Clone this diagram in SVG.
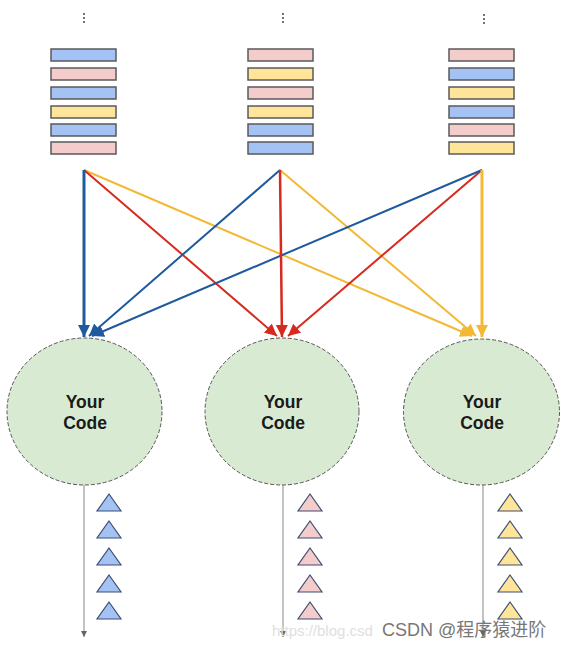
<svg xmlns="http://www.w3.org/2000/svg" width="568" height="648" viewBox="0 0 568 648">
<style>
.b{fill:#a4c2f4}.p{fill:#f4cccc}.y{fill:#ffe599}
.bar rect{stroke:#595959;stroke-width:1.5;width:65px;height:12px}
.dot{fill:#444}
.node ellipse{fill:#d9ead3;stroke:#555;stroke-width:1;stroke-dasharray:4 2}
.node text{font-family:"Liberation Sans",Arial,sans-serif;font-weight:bold;font-size:17.5px;fill:#1a1a1a;text-anchor:middle}
.tri polygon{stroke:#3d4f73;stroke-width:1.2}
.out{stroke:#9a9a9a;stroke-width:1.2;fill:none}
.cb{stroke:#1f5a9e;fill:none}.cr{stroke:#d62a1f;fill:none}.cy{stroke:#f3b935;fill:none}
.wm{font-family:"Liberation Sans",Arial,"Noto Sans CJK SC",sans-serif}
</style>
<defs>
<marker id="mb" markerUnits="userSpaceOnUse" markerWidth="14" markerHeight="14" refX="12" refY="6" orient="auto"><path d="M0,0 L12,6 L0,12 Z" fill="#1f5a9e"/></marker>
<marker id="mr" markerUnits="userSpaceOnUse" markerWidth="14" markerHeight="14" refX="12" refY="6" orient="auto"><path d="M0,0 L12,6 L0,12 Z" fill="#d62a1f"/></marker>
<marker id="my" markerUnits="userSpaceOnUse" markerWidth="14" markerHeight="14" refX="12" refY="6" orient="auto"><path d="M0,0 L12,6 L0,12 Z" fill="#f3b935"/></marker>
<marker id="mg" markerUnits="userSpaceOnUse" markerWidth="8" markerHeight="8" refX="6" refY="3" orient="auto"><path d="M0,0 L6,3 L0,6 Z" fill="#666"/></marker>
</defs>

<g id="stack1" class="bar">
<circle class="dot" cx="84" cy="14" r="1"/><circle class="dot" cx="84" cy="18" r="1"/><circle class="dot" cx="84" cy="22" r="1"/>
<rect class="b" x="51" y="49"/><rect class="p" x="51" y="68"/><rect class="b" x="51" y="87"/><rect class="y" x="51" y="106"/><rect class="b" x="51" y="124"/><rect class="p" x="51" y="142"/>
</g>
<g id="stack2" class="bar">
<circle class="dot" cx="283" cy="14" r="1"/><circle class="dot" cx="283" cy="18" r="1"/><circle class="dot" cx="283" cy="22" r="1"/>
<rect class="p" x="248" y="49"/><rect class="y" x="248" y="68"/><rect class="p" x="248" y="87"/><rect class="y" x="248" y="106"/><rect class="b" x="248" y="124"/><rect class="b" x="248" y="142"/>
</g>
<g id="stack3" class="bar">
<circle class="dot" cx="484" cy="15" r="1"/><circle class="dot" cx="484" cy="19" r="1"/><circle class="dot" cx="484" cy="23" r="1"/>
<rect class="p" x="449" y="49"/><rect class="b" x="449" y="68"/><rect class="y" x="449" y="87"/><rect class="b" x="449" y="106"/><rect class="p" x="449" y="124"/><rect class="y" x="449" y="142"/>
</g>

<g id="connectors">
<line class="cy" stroke-width="2" x1="84" y1="170" x2="472" y2="336" marker-end="url(#my)"/>
<line class="cy" stroke-width="2" x1="280" y1="170" x2="476" y2="336" marker-end="url(#my)"/>
<line class="cr" stroke-width="2" x1="84" y1="170" x2="277" y2="336" marker-end="url(#mr)"/>
<line class="cr" stroke-width="2" x1="482" y1="170" x2="288" y2="336" marker-end="url(#mr)"/>
<line class="cb" stroke-width="2" x1="280" y1="170" x2="89" y2="336" marker-end="url(#mb)"/>
<line class="cb" stroke-width="2" x1="482" y1="170" x2="92" y2="336" marker-end="url(#mb)"/>
<line class="cb" stroke-width="3" x1="84" y1="170" x2="84" y2="337" marker-end="url(#mb)"/>
<line class="cr" stroke-width="2.5" x1="280" y1="170" x2="282" y2="337" marker-end="url(#mr)"/>
<line class="cy" stroke-width="3" x1="482" y1="170" x2="482" y2="337" marker-end="url(#my)"/>
<line class="out" x1="84" y1="485" x2="84" y2="637" marker-end="url(#mg)"/>
<line class="out" x1="283" y1="485" x2="283" y2="637" marker-end="url(#mg)"/>
<line class="out" x1="483" y1="485" x2="483" y2="637" marker-end="url(#mg)"/>
</g>

<g id="code1" class="node"><ellipse cx="84.5" cy="411.5" rx="77.5" ry="73.5"/><text x="85" y="408">Your</text><text x="85" y="429">Code</text></g>
<g id="code2" class="node"><ellipse cx="282" cy="411.5" rx="77" ry="73.5"/><text x="283" y="408">Your</text><text x="283" y="429">Code</text></g>
<g id="code3" class="node"><ellipse cx="481.5" cy="412" rx="78" ry="73"/><text x="482" y="408">Your</text><text x="482" y="429">Code</text></g>

<g id="out1" class="tri">
<polygon class="b" points="109,494 121,511 97,511"/><polygon class="b" points="109,521 121,538 97,538"/><polygon class="b" points="109,548 121,565 97,565"/><polygon class="b" points="109,575 121,592 97,592"/><polygon class="b" points="109,602 121,619 97,619"/>
</g>
<g id="out2" class="tri">
<polygon class="p" points="310,494 322,511 298,511"/><polygon class="p" points="310,521 322,538 298,538"/><polygon class="p" points="310,548 322,565 298,565"/><polygon class="p" points="310,575 322,592 298,592"/><polygon class="p" points="310,602 322,619 298,619"/>
</g>
<g id="out3" class="tri">
<polygon class="y" points="510,494 522,511 498,511"/><polygon class="y" points="510,521 522,538 498,538"/><polygon class="y" points="510,548 522,565 498,565"/><polygon class="y" points="510,575 522,592 498,592"/><polygon class="y" points="510,602 522,619 498,619"/>
</g>

<text class="wm" x="272" y="636" font-size="15" fill="#e0e0e0">https://blog.csd</text>
<text class="wm" x="382" y="636" font-size="18" fill="#777">CSDN @程序猿进阶</text>
</svg>
